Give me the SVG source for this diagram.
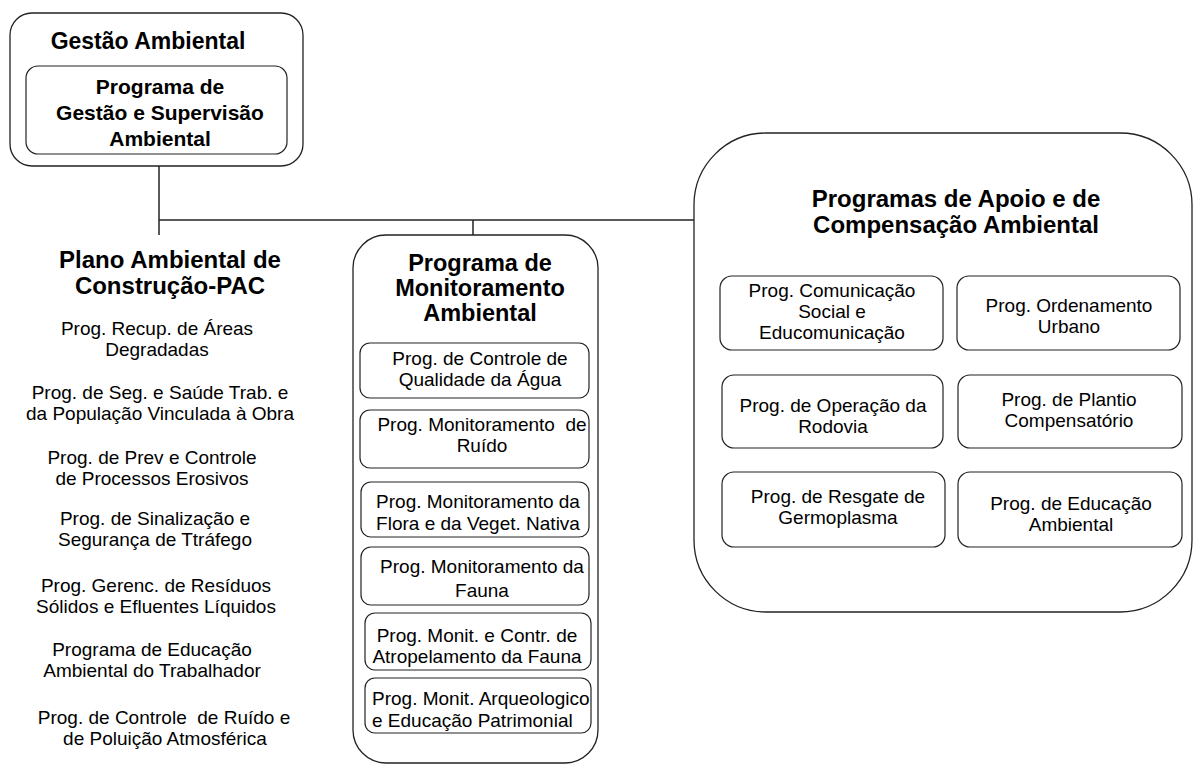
<svg xmlns="http://www.w3.org/2000/svg" width="1199" height="765" viewBox="0 0 1199 765">
<style>
.box{fill:none;stroke:#222;stroke-width:1.3}
.ibox{fill:none;stroke:#222;stroke-width:1.2}
.conn{fill:none;stroke:#222;stroke-width:1.5}
text{font-family:"Liberation Sans",Arial,sans-serif;fill:#000;text-anchor:middle}
.t1{font-size:23px;font-weight:bold}
.t2{font-size:24px;font-weight:bold}
.t3{font-size:23.5px;font-weight:bold}
.tb{font-size:21px;font-weight:bold}
.tr{font-size:19px}
</style>
<rect width="1199" height="765" fill="#fff"/>
<g id="connectors">
<path class="conn" d="M159,166 V235"/>
<path class="conn" d="M159,220 H694"/>
<path class="conn" d="M473,220 V235"/>
</g>
<g id="gestao-ambiental">
<rect class="box" x="10" y="13" width="293" height="153" rx="22"/>
<text class="t1" x="148" y="49">Gestão Ambiental</text>
</g>
<g id="programa-gestao-supervisao">
<rect class="ibox" x="26" y="66" width="261" height="88" rx="12"/>
<text class="tb" x="160" y="94">Programa de</text>
<text class="tb" x="160" y="120">Gestão e Supervisão</text>
<text class="tb" x="160" y="146">Ambiental</text>
</g>
<g id="pac">
<text class="t2" x="170" y="268">Plano Ambiental de</text>
<text class="t2" x="170" y="294">Construção-PAC</text>
<text class="tr" x="157" y="335">Prog. Recup. de Áreas</text>
<text class="tr" x="157" y="356">Degradadas</text>
<text class="tr" x="160" y="399">Prog. de Seg. e Saúde Trab. e</text>
<text class="tr" x="160" y="420">da População Vinculada à Obra</text>
<text class="tr" x="152" y="464">Prog. de Prev e Controle</text>
<text class="tr" x="152" y="485">de Processos Erosivos</text>
<text class="tr" x="155" y="525">Prog. de Sinalização e</text>
<text class="tr" x="155" y="546">Segurança de Ttráfego</text>
<text class="tr" x="156" y="592">Prog. Gerenc. de Resíduos</text>
<text class="tr" x="156" y="613">Sólidos e Efluentes Líquidos</text>
<text class="tr" x="152" y="656">Programa de Educação</text>
<text class="tr" x="152" y="677">Ambiental do Trabalhador</text>
<text class="tr" x="164" y="724" xml:space="preserve">Prog. de Controle  de Ruído e</text>
<text class="tr" x="165" y="745">de Poluição Atmosférica</text>
</g>
<g id="monitoramento">
<rect class="box" x="353" y="235" width="245" height="528" rx="33"/>
<text class="t3" x="480" y="271">Programa de</text>
<text class="t3" x="480" y="296">Monitoramento</text>
<text class="t3" x="480" y="321">Ambiental</text>
</g>
<g id="mon-agua">
<rect class="ibox" x="360" y="343" width="229" height="55" rx="10"/>
<text class="tr" x="480" y="365">Prog. de Controle de</text>
<text class="tr" x="480" y="386">Qualidade da Água</text>
</g>
<g id="mon-ruido">
<rect class="ibox" x="360" y="410" width="229" height="58" rx="10"/>
<text class="tr" x="482" y="431" xml:space="preserve">Prog. Monitoramento  de</text>
<text class="tr" x="482" y="452">Ruído</text>
</g>
<g id="mon-flora">
<rect class="ibox" x="361" y="482" width="228" height="55" rx="10"/>
<text class="tr" x="478" y="508">Prog. Monitoramento da</text>
<text class="tr" x="478" y="530">Flora e da Veget. Nativa</text>
</g>
<g id="mon-fauna">
<rect class="ibox" x="361" y="547" width="228" height="58" rx="10"/>
<text class="tr" x="482" y="573">Prog. Monitoramento da</text>
<text class="tr" x="482" y="597">Fauna</text>
</g>
<g id="mon-atropelamento">
<rect class="ibox" x="365" y="613" width="226" height="57" rx="10"/>
<text class="tr" x="477" y="642">Prog. Monit. e Contr. de</text>
<text class="tr" x="477" y="663">Atropelamento da Fauna</text>
</g>
<g id="mon-arqueologico">
<rect class="ibox" x="365" y="678" width="226" height="55" rx="10"/>
<text class="tr" x="372" y="705" style="text-anchor:start">Prog. Monit. Arqueologico</text>
<text class="tr" x="372" y="727" style="text-anchor:start">e Educação Patrimonial</text>
</g>
<g id="apoio-compensacao">
<rect class="box" x="694" y="133" width="498" height="479" rx="72"/>
<text class="t2" x="956" y="207">Programas de Apoio e de</text>
<text class="t2" x="956" y="233">Compensação Ambiental</text>
</g>
<g id="ap-comunicacao">
<rect class="ibox" x="720" y="276" width="223" height="74" rx="12"/>
<text class="tr" x="832" y="297">Prog. Comunicação</text>
<text class="tr" x="832" y="318">Social e</text>
<text class="tr" x="832" y="339">Educomunicação</text>
</g>
<g id="ap-ordenamento">
<rect class="ibox" x="957" y="276" width="223" height="74" rx="12"/>
<text class="tr" x="1069" y="312">Prog. Ordenamento</text>
<text class="tr" x="1069" y="333">Urbano</text>
</g>
<g id="ap-rodovia">
<rect class="ibox" x="722" y="375" width="221" height="73" rx="12"/>
<text class="tr" x="833" y="412">Prog. de Operação da</text>
<text class="tr" x="833" y="433">Rodovia</text>
</g>
<g id="ap-plantio">
<rect class="ibox" x="958" y="375" width="224" height="73" rx="12"/>
<text class="tr" x="1069" y="406">Prog. de Plantio</text>
<text class="tr" x="1069" y="427">Compensatório</text>
</g>
<g id="ap-germoplasma">
<rect class="ibox" x="722" y="472" width="223" height="75" rx="12"/>
<text class="tr" x="838" y="503">Prog. de Resgate de</text>
<text class="tr" x="838" y="524">Germoplasma</text>
</g>
<g id="ap-educacao">
<rect class="ibox" x="958" y="472" width="224" height="75" rx="12"/>
<text class="tr" x="1071" y="510">Prog. de Educação</text>
<text class="tr" x="1071" y="531">Ambiental</text>
</g>
</svg>
